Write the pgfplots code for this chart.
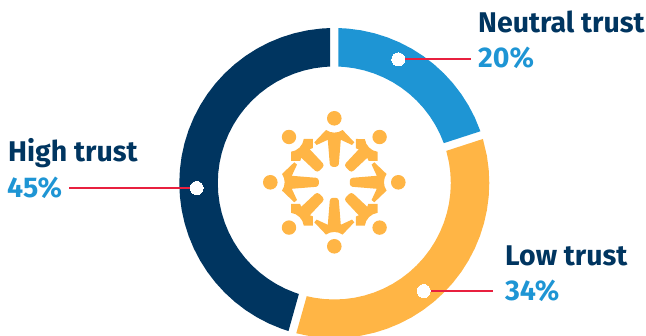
\documentclass[border=0pt]{standalone}
\usepackage{pgfplots}
\pgfplotsset{compat=1.18}
\usepackage{fontspec}
\setmainfont{Fira Sans}
\definecolor{navy}{HTML}{003560}
\definecolor{skyb}{HTML}{1E95D4}
\definecolor{amber}{HTML}{FFB545}
\definecolor{leader}{HTML}{E8203F}
\newcommand{\lab}[1]{{\fontsize{28.5}{28.5}\selectfont\bfseries #1}}
\begin{document}
\begin{tikzpicture}[x=1pt,y=1pt]
\useasboundingbox (0,0) rectangle (646,336);
\begin{axis}[
  at={(0,0)},anchor=south west,
  scale only axis,width=646pt,height=336pt,
  xmin=-334.3,xmax=311.7,ymin=-153,ymax=183,
  hide axis,clip=true,
  data cs=polar,
]
% Ring segments in (angle, radius): neutral 20%, low 34%, high 45%
\addplot[fill=skyb,draw=none] coordinates {
 (88.5,155)(85,155)(80,155)(75,155)(70,155)(65,155)(60,155)(55,155)(50,155)(45,155)(40,155)(35,155)(30,155)(25,155)(19.5,155)
 (20,116.5)(25,116.5)(30,116.5)(35,116.5)(40,116.5)(45,116.5)(50,116.5)(55,116.5)(60,116.5)(65,116.5)(70,116.5)(75,116.5)(80,116.5)(85,116.5)(88,116.5)} --cycle;
\addplot[fill=amber,draw=none] coordinates {
 (16.5,155)(10,155)(5,155)(0,155)(-5,155)(-10,155)(-15,155)(-20,155)(-25,155)(-30,155)(-35,155)(-40,155)(-45,155)(-50,155)(-55,155)(-60,155)(-65,155)(-70,155)(-75,155)(-80,155)(-85,155)(-90,155)(-95,155)(-100,155)(-104.2,155)
 (-103.7,116.5)(-100,116.5)(-95,116.5)(-90,116.5)(-85,116.5)(-80,116.5)(-75,116.5)(-70,116.5)(-65,116.5)(-60,116.5)(-55,116.5)(-50,116.5)(-45,116.5)(-40,116.5)(-35,116.5)(-30,116.5)(-25,116.5)(-20,116.5)(-15,116.5)(-10,116.5)(-5,116.5)(0,116.5)(5,116.5)(10,116.5)(16,116.5)} --cycle;
\addplot[fill=navy,draw=none] coordinates {
 (-107.2,155)(-110,155)(-115,155)(-120,155)(-125,155)(-130,155)(-135,155)(-140,155)(-145,155)(-150,155)(-155,155)(-160,155)(-165,155)(-170,155)(-175,155)(-180,155)(-185,155)(-190,155)(-195,155)(-200,155)(-205,155)(-210,155)(-215,155)(-220,155)(-225,155)(-230,155)(-235,155)(-240,155)(-245,155)(-250,155)(-255,155)(-260,155)(-265,155)(-268.5,155)
 (-268,116.5)(-265,116.5)(-260,116.5)(-255,116.5)(-250,116.5)(-245,116.5)(-240,116.5)(-235,116.5)(-230,116.5)(-225,116.5)(-220,116.5)(-215,116.5)(-210,116.5)(-205,116.5)(-200,116.5)(-195,116.5)(-190,116.5)(-185,116.5)(-180,116.5)(-175,116.5)(-170,116.5)(-165,116.5)(-160,116.5)(-155,116.5)(-150,116.5)(-145,116.5)(-140,116.5)(-135,116.5)(-130,116.5)(-125,116.5)(-120,116.5)(-115,116.5)(-110,116.5)(-107.7,116.5)} --cycle;
% Leader lines and their end dots
\addplot[draw=leader,line width=1.2pt,data cs=cart] coordinates {(89.4,-108)(159,-108)};
\addplot[draw=leader,line width=1.2pt,data cs=cart] coordinates {(64,124)(137,124)};
\addplot[draw=leader,line width=1.2pt,data cs=cart] coordinates {(-265.3,-5)(-137.6,-5)};
\addplot[only marks,white,mark=*,mark size=6.5pt,mark options={fill=white,draw=white,line width=0pt},data cs=cart]
  coordinates {(64,123.7)(89.4,-108)(-137.6,-5)};
% Labels
\node[anchor=base west,inner sep=0,text=navy] at (axis cs:143.7,150) {\lab{Neutral trust}};
\node[anchor=base west,inner sep=0,text=skyb] at (axis cs:143.7,115) {\lab{20\%}};
\node[anchor=base west,inner sep=0,text=navy] at (axis cs:170.7,-83) {\lab{Low trust}};
\node[anchor=base west,inner sep=0,text=skyb] at (axis cs:170.7,-118) {\lab{34\%}};
\node[anchor=base west,inner sep=0,text=navy] at (axis cs:-326.3,21) {\lab{High trust}};
\node[anchor=base west,inner sep=0,text=skyb] at (axis cs:-327.3,-15) {\lab{45\%}};
\end{axis}
% Ring of people emblem at the centre: figures on the axes and on the diagonals
\begin{scope}[shift={(334.3,153.7)}]
\foreach \a in {0,90,180,270}{
 \begin{scope}[rotate=\a]
  \fill[amber] (0,64) circle (7.3);
  \fill[amber] (8.3,52.3) arc[start angle=-54.6,end angle=-125.4,radius=14.3]
     --(-20,40)--(-17.7,37.3)--(-6.5,42.5)--(-4.5,18)
     [rounded corners=3pt]--(-4.5,15.5)--(4.5,15.5)[sharp corners]--(4.5,18)
     --(6.5,42.5)--(17.7,37.3)--(20,40)--cycle;
  \fill[amber] (-45.3,45.3) circle (7.2);
  \fill[amber] (-30.5,43.3) arc[start angle=-7.7,end angle=-82.3,radius=14.9]
     --(-43.3,21.5)--(-34,21.5)--(-33,24.5)
     [rounded corners=3pt]--(-17,9.5)--(-9.5,17)[sharp corners]
     --(-24.5,33)--(-21.5,34.3)--(-21.5,43.3)--cycle;
 \end{scope}
}
\end{scope}
\end{tikzpicture}
\end{document}
